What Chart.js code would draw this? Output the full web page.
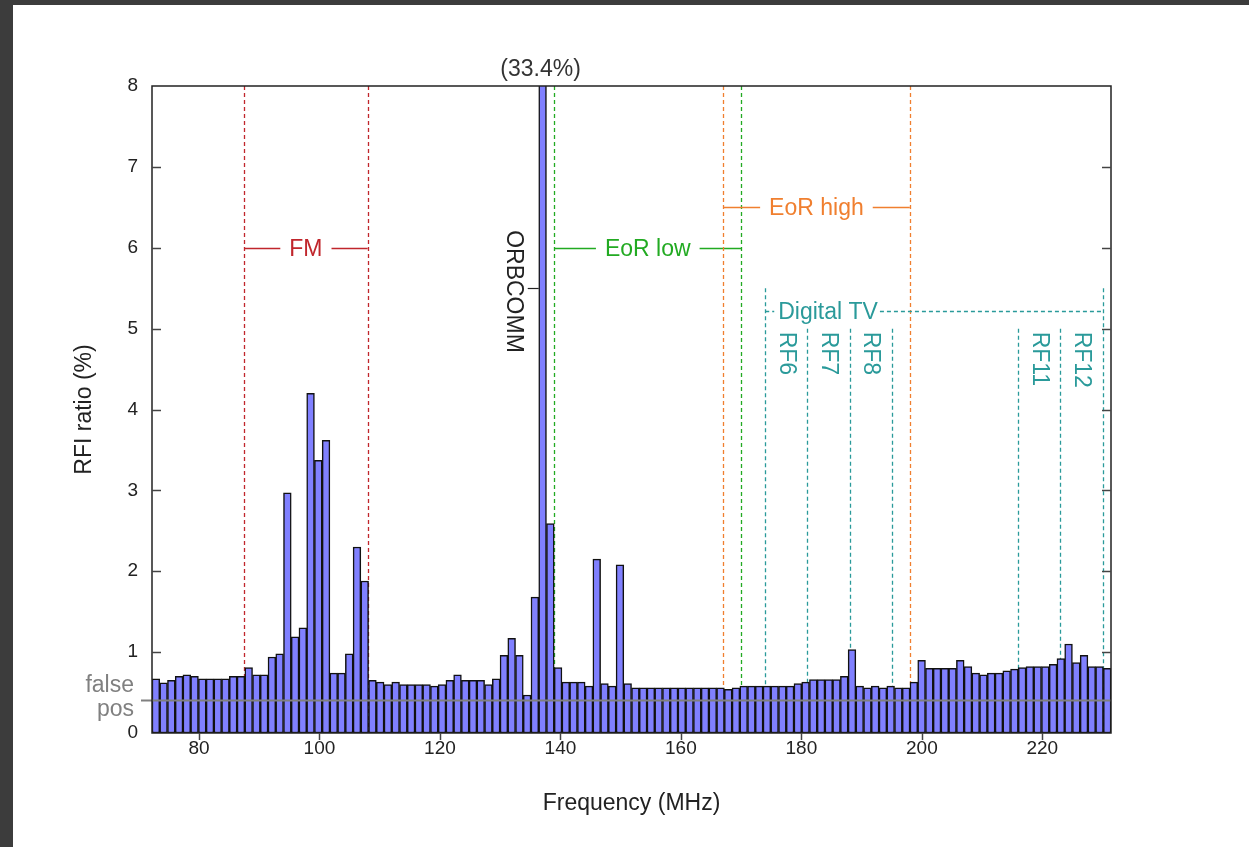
<!DOCTYPE html>
<html>
<head>
<meta charset="utf-8">
<title>RFI ratio</title>
<script src="https://cdn.jsdelivr.net/npm/chart.js@4.4.0/dist/chart.umd.min.js"></script>
<style>
  html, body { margin: 0; padding: 0; background: #3c3c3c; }
  #wrap { position: absolute; left: 13px; top: 5px; width: 1236px; height: 842px; background: #fff; }
</style>
</head>
<body>
<div id="wrap"><canvas id="rfiChart" width="1236" height="842"></canvas></div>
<script>
// coarse channels: first channel lower edge and width (MHz)
var chanStart = 72.2;
var chanWidth = 1.284;

// RFI ratio per coarse channel (%)
var rfiRatio = [
  0.67, 0.62, 0.65, 0.70, 0.72, 0.70, 0.67, 0.67, 0.67, 0.67,
  0.70, 0.70, 0.81, 0.72, 0.72, 0.94, 0.98, 2.97, 1.19, 1.30,
  4.20, 3.37, 3.62, 0.74, 0.74, 0.98, 2.30, 1.88, 0.65, 0.63,
  0.60, 0.63, 0.60, 0.60, 0.60, 0.60, 0.58, 0.60, 0.65, 0.72,
  0.65, 0.65, 0.65, 0.60, 0.67, 0.96, 1.17, 0.96, 0.47, 1.68,
  33.4, 2.59, 0.81, 0.63, 0.63, 0.63, 0.58, 2.15, 0.61, 0.58,
  2.08, 0.61, 0.56, 0.56, 0.56, 0.56, 0.56, 0.56, 0.56, 0.56,
  0.56, 0.56, 0.56, 0.56, 0.54, 0.56, 0.58, 0.58, 0.58, 0.58,
  0.58, 0.58, 0.58, 0.61, 0.63, 0.66, 0.66, 0.66, 0.66, 0.70,
  1.03, 0.58, 0.56, 0.58, 0.56, 0.58, 0.56, 0.56, 0.63, 0.90,
  0.80, 0.80, 0.80, 0.80, 0.90, 0.82, 0.74, 0.72, 0.74, 0.74,
  0.77, 0.79, 0.81, 0.82, 0.82, 0.82, 0.85, 0.92, 1.10, 0.87,
  0.96, 0.82, 0.82, 0.80
];

var xTicks = [80, 100, 120, 140, 160, 180, 200, 220];
var yMax = 8;
var falsePos = 0.41;

// bands with a bracket across them
var bands = [
  { label: 'FM',       range: [87.5, 108], level: 6,   color: '#c0262c' },
  { label: 'EoR low',  range: [139, 170],  level: 6,   color: '#22aa22' },
  { label: 'EoR high', range: [167, 198],  level: 6.5, color: '#f07f2f' }
];

// digital TV channels
var tvColor = '#2a9a9a';
var tvLevel = 5.22;
var tvLabels = ['RF6', 'RF7', 'RF8', 'RF11', 'RF12'];
var tvRanges = [[174, 181], [181, 188], [188, 195], [216, 223], [223, 230]];

var orbcommChan = 50;

var points = rfiRatio.map(function (v, i) {
  return { x: chanStart + chanWidth * (i + 0.5), y: v };
});

var FONT = '"Liberation Sans", Arial, sans-serif';
var LABEL_FONT = '23px ' + FONT;

function line(ctx, x0, y0, x1, y1) {
  ctx.beginPath();
  ctx.moveTo(x0, y0);
  ctx.lineTo(x1, y1);
  ctx.stroke();
}

// dashed band edges and labels, under the bars
var annotations = {
  id: 'annotations',
  beforeDatasetsDraw: function (chart) {
    var ctx = chart.ctx, xs = chart.scales.x, ys = chart.scales.y, area = chart.chartArea;
    ctx.save();
    ctx.lineWidth = 1.3;
    ctx.font = LABEL_FONT;
    ctx.textBaseline = 'middle';
    ctx.textAlign = 'center';

    bands.forEach(function (b) {
      ctx.strokeStyle = b.color;
      ctx.fillStyle = b.color;
      ctx.setLineDash([4, 3]);
      b.range.forEach(function (f) {
        var px = Math.round(xs.getPixelForValue(f)) + 0.5;
        line(ctx, px, area.top, px, area.bottom);
      });
      ctx.setLineDash([]);
      var x0 = xs.getPixelForValue(b.range[0]);
      var x1 = xs.getPixelForValue(b.range[1]);
      var py = Math.round(ys.getPixelForValue(b.level)) + 0.5;
      var mid = (x0 + x1) / 2;
      var half = ctx.measureText(b.label).width / 2 + 9;
      line(ctx, x0, py, mid - half, py);
      line(ctx, mid + half, py, x1, py);
      ctx.fillText(b.label, mid, py + 1);
    });

    // digital TV
    ctx.strokeStyle = tvColor;
    ctx.fillStyle = tvColor;
    ctx.setLineDash([4, 3]);
    var tvFirst = tvRanges[0][0];
    var tvLast = tvRanges[tvRanges.length - 1][1];
    var edges = [];
    tvRanges.forEach(function (r) {
      if (edges.indexOf(r[0]) < 0) edges.push(r[0]);
      if (edges.indexOf(r[1]) < 0) edges.push(r[1]);
    });
    edges.forEach(function (f) {
      var px = Math.round(xs.getPixelForValue(f)) + 0.5;
      var top = (f == tvFirst || f == tvLast) ? ys.getPixelForValue(5.5) : ys.getPixelForValue(5.0);
      line(ctx, px, top, px, area.bottom);
    });
    var tvY = Math.round(ys.getPixelForValue(tvLevel)) + 0.5;
    var tx0 = xs.getPixelForValue(tvFirst);
    var tx1 = xs.getPixelForValue(tvLast);
    ctx.textAlign = 'left';
    var tvText = 'Digital TV';
    var textX = tx0 + 13;
    var textW = ctx.measureText(tvText).width;
    line(ctx, tx0, tvY, textX - 4, tvY);
    line(ctx, textX + textW + 2, tvY, tx1, tvY);
    ctx.setLineDash([]);
    ctx.fillText(tvText, textX, tvY + 1);

    var rfTop = ys.getPixelForValue(5.0) + 3;
    tvRanges.forEach(function (r, i) {
      var cx = xs.getPixelForValue((r[0] + r[1]) / 2);
      ctx.save();
      ctx.translate(cx, rfTop);
      ctx.rotate(Math.PI / 2);
      ctx.fillText(tvLabels[i], 0, 0);
      ctx.restore();
    });
    ctx.restore();
  },

  afterDatasetsDraw: function (chart) {
    var ctx = chart.ctx, xs = chart.scales.x, ys = chart.scales.y, area = chart.chartArea;
    ctx.save();

    // false positive level
    var fp = Math.round(ys.getPixelForValue(falsePos)) + 0.5;
    ctx.strokeStyle = '#808080';
    ctx.lineWidth = 2;
    line(ctx, area.left - 11, fp, area.right, fp);
    ctx.fillStyle = '#808080';
    ctx.font = LABEL_FONT;
    ctx.textAlign = 'right';
    ctx.textBaseline = 'middle';
    ctx.fillText('false', area.left - 18, fp - 15);
    ctx.fillText('pos', area.left - 18, fp + 9);

    // frame
    ctx.strokeStyle = '#222';
    ctx.lineWidth = 1.5;
    ctx.strokeRect(area.left, area.top, area.right - area.left, area.bottom - area.top);

    // inward ticks on y, outward on x
    ctx.strokeStyle = '#444';
    ys.ticks.forEach(function (t) {
      var py = Math.round(ys.getPixelForValue(t.value)) + 0.5;
      if (t.value > 0 && t.value < yMax) {
        line(ctx, area.left, py, area.left + 9, py);
        line(ctx, area.right - 9, py, area.right, py);
      }
    });
    xs.ticks.forEach(function (t) {
      var px = Math.round(xs.getPixelForValue(t.value)) + 0.5;
      line(ctx, px, area.bottom, px, area.bottom + 7);
    });

    // ORBCOMM spike
    var bar = chart.getDatasetMeta(0).data[orbcommChan];
    var left = bar.x - bar.width / 2;
    var my = Math.round(ys.getPixelForValue(5.5)) + 0.5;
    ctx.strokeStyle = '#222';
    ctx.lineWidth = 1.2;
    line(ctx, left - 11, my, left, my);
    ctx.fillStyle = '#222';
    ctx.save();
    ctx.translate(left - 25, my + 3);
    ctx.rotate(Math.PI / 2);
    ctx.textAlign = 'center';
    ctx.fillText('ORBCOMM', 0, 0);
    ctx.restore();
    ctx.textAlign = 'center';
    ctx.fillStyle = '#333';
    ctx.fillText('(' + rfiRatio[orbcommChan].toFixed(1) + '%)', bar.x - 2, area.top - 16);
    ctx.restore();
  }
};

var chart = new Chart(document.getElementById('rfiChart'), {
  type: 'bar',
  data: {
    datasets: [{
      data: points,
      backgroundColor: '#8080ff',
      borderColor: '#111',
      borderWidth: 1.5,
      borderSkipped: false,
      barPercentage: 1,
      categoryPercentage: 1
    }]
  },
  options: {
    responsive: false,
    animation: false,
    layout: { padding: { left: 52, top: 81, right: 138, bottom: 30 } },
    plugins: { legend: { display: false }, tooltip: { enabled: false } },
    scales: {
      x: {
        type: 'linear',
        min: 72.2,
        max: 231.4,
        offset: false,
        grid: { display: false, drawTicks: false, offset: false },
        border: { display: false },
        afterBuildTicks: function (s) {
          s.ticks = xTicks.map(function (v) { return { value: v }; });
        },
        afterFit: function (s) { s.height = 84; },
        ticks: { color: '#222', font: { family: FONT, size: 19 }, padding: 4, maxRotation: 0 },
        title: { display: true, text: 'Frequency (MHz)', color: '#222',
                 font: { family: FONT, size: 23 }, padding: { top: 0, bottom: 0 } }
      },
      y: {
        min: 0,
        max: yMax,
        grid: { display: false, drawTicks: false },
        border: { display: false },
        afterFit: function (s) { s.width = 87; },
        ticks: { stepSize: 1, color: '#222', font: { family: FONT, size: 19 }, padding: 14 },
        title: { display: true, text: 'RFI ratio (%)', color: '#222',
                 font: { family: FONT, size: 23 }, padding: { top: 6, bottom: 0 } }
      }
    }
  },
  plugins: [annotations]
});
</script>
</body>
</html>
